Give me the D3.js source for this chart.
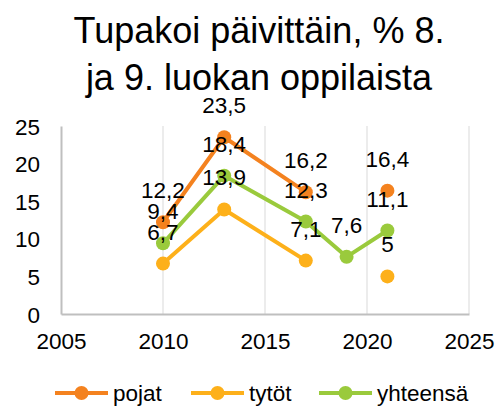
<!DOCTYPE html>
<html><head><meta charset="utf-8">
<script src="https://cdn.jsdelivr.net/npm/d3@7/dist/d3.min.js"></script>
<style>body{margin:0;background:#fff}svg{display:block;font-family:"Liberation Sans",Arial,sans-serif}</style>
</head><body><svg id="c" width="498" height="407"></svg>
<script>
const titleLines = ["Tupakoi päivittäin, % 8.", "ja 9. luokan oppilaista"];
const years = [2010, 2013, 2017, 2019, 2021];
const pojat = [12.2, 23.5, 16.2, null, 16.4];
const tytot = [6.7, 13.9, 7.1, null, 5];
const yhteensa = [9.4, 18.4, 12.3, 7.6, 11.1];
const seriesNames = ["pojat", "tytöt", "yhteensä"];
const colors = ["#F4821F", "#FDB01A", "#9ACA3C"];
const xTicks = [2005, 2010, 2015, 2020, 2025];
const yTicks = [0, 5, 10, 15, 20, 25];

const series = [pojat, tytot, yhteensa].map((vals, i) => ({
  name: seriesNames[i], color: colors[i],
  pts: years.map((y, j) => ({x: y, v: vals[j]}))
}));

const svg = d3.select("#c");
const x = d3.scaleLinear().domain([2005, 2025]).range([61, 469]);
const y = d3.scaleLinear().domain([0, 25]).range([314, 126]);
const fs = 22.5;

svg.append("g").selectAll("text").data(titleLines).join("text")
  .attr("x", 259).attr("y", (d, i) => 43 + i * 47)
  .attr("text-anchor", "middle").attr("font-size", 36).attr("fill", "#000").text(d => d);

// vertical gridlines
svg.append("g").selectAll("line").data(xTicks.slice(1)).join("line")
  .attr("x1", d => x(d)).attr("x2", d => x(d)).attr("y1", y(25)).attr("y2", y(0))
  .attr("stroke", "#D9D9D9").attr("stroke-width", 1);

// axes
const gy = svg.append("g").attr("transform", `translate(${x(2005)},0)`)
  .call(d3.axisLeft(y).tickValues(yTicks).tickSize(0).tickPadding(21).tickFormat(d3.format("d")));
const gx = svg.append("g").attr("transform", `translate(0,${y(0)})`)
  .call(d3.axisBottom(x).tickValues(xTicks).tickSize(0).tickPadding(19).tickFormat(d3.format("d")));
[gx, gy].forEach(g => {
  g.select(".domain").attr("stroke", "#BFBFBF").attr("stroke-width", 2);
  g.selectAll("text").attr("font-size", fs).attr("fill", "#000").attr("font-family", "Liberation Sans, Arial, sans-serif");
});
gy.selectAll("text").attr("dy", "0.36em");

const line = d3.line().defined(d => d.v != null).x(d => x(d.x)).y(d => y(d.v));
const fmt = v => String(v).replace(".", ",");

series.forEach(s => {
  const g = svg.append("g");
  g.append("path").attr("d", line(s.pts)).attr("fill", "none")
    .attr("stroke", s.color).attr("stroke-width", 4).attr("stroke-linejoin", "round");
  const pts = s.pts.filter(d => d.v != null);
  g.selectAll("circle").data(pts).join("circle")
    .attr("cx", d => x(d.x)).attr("cy", d => y(d.v)).attr("r", 7).attr("fill", s.color);
});
series.forEach(s => {
  const pts = s.pts.filter(d => d.v != null);
  svg.append("g").selectAll("text").data(pts).join("text")
    .attr("x", d => x(d.x)).attr("y", d => y(d.v) - 24)
    .attr("text-anchor", "middle").attr("font-size", fs).attr("fill", "#000").text(d => fmt(d.v));
});

// legend
const legX = [55, 191, 319];
const lg = svg.append("g").selectAll("g").data(series).join("g")
  .attr("transform", (d, i) => `translate(${legX[i]},393)`);
lg.append("line").attr("x1", 0).attr("x2", 53).attr("stroke", d => d.color).attr("stroke-width", 4);
lg.append("circle").attr("cx", 26.5).attr("r", 7).attr("fill", d => d.color);
lg.append("text").attr("x", 58).attr("y", 8).attr("font-size", fs).attr("fill", "#000").text(d => d.name);
</script></body></html>
